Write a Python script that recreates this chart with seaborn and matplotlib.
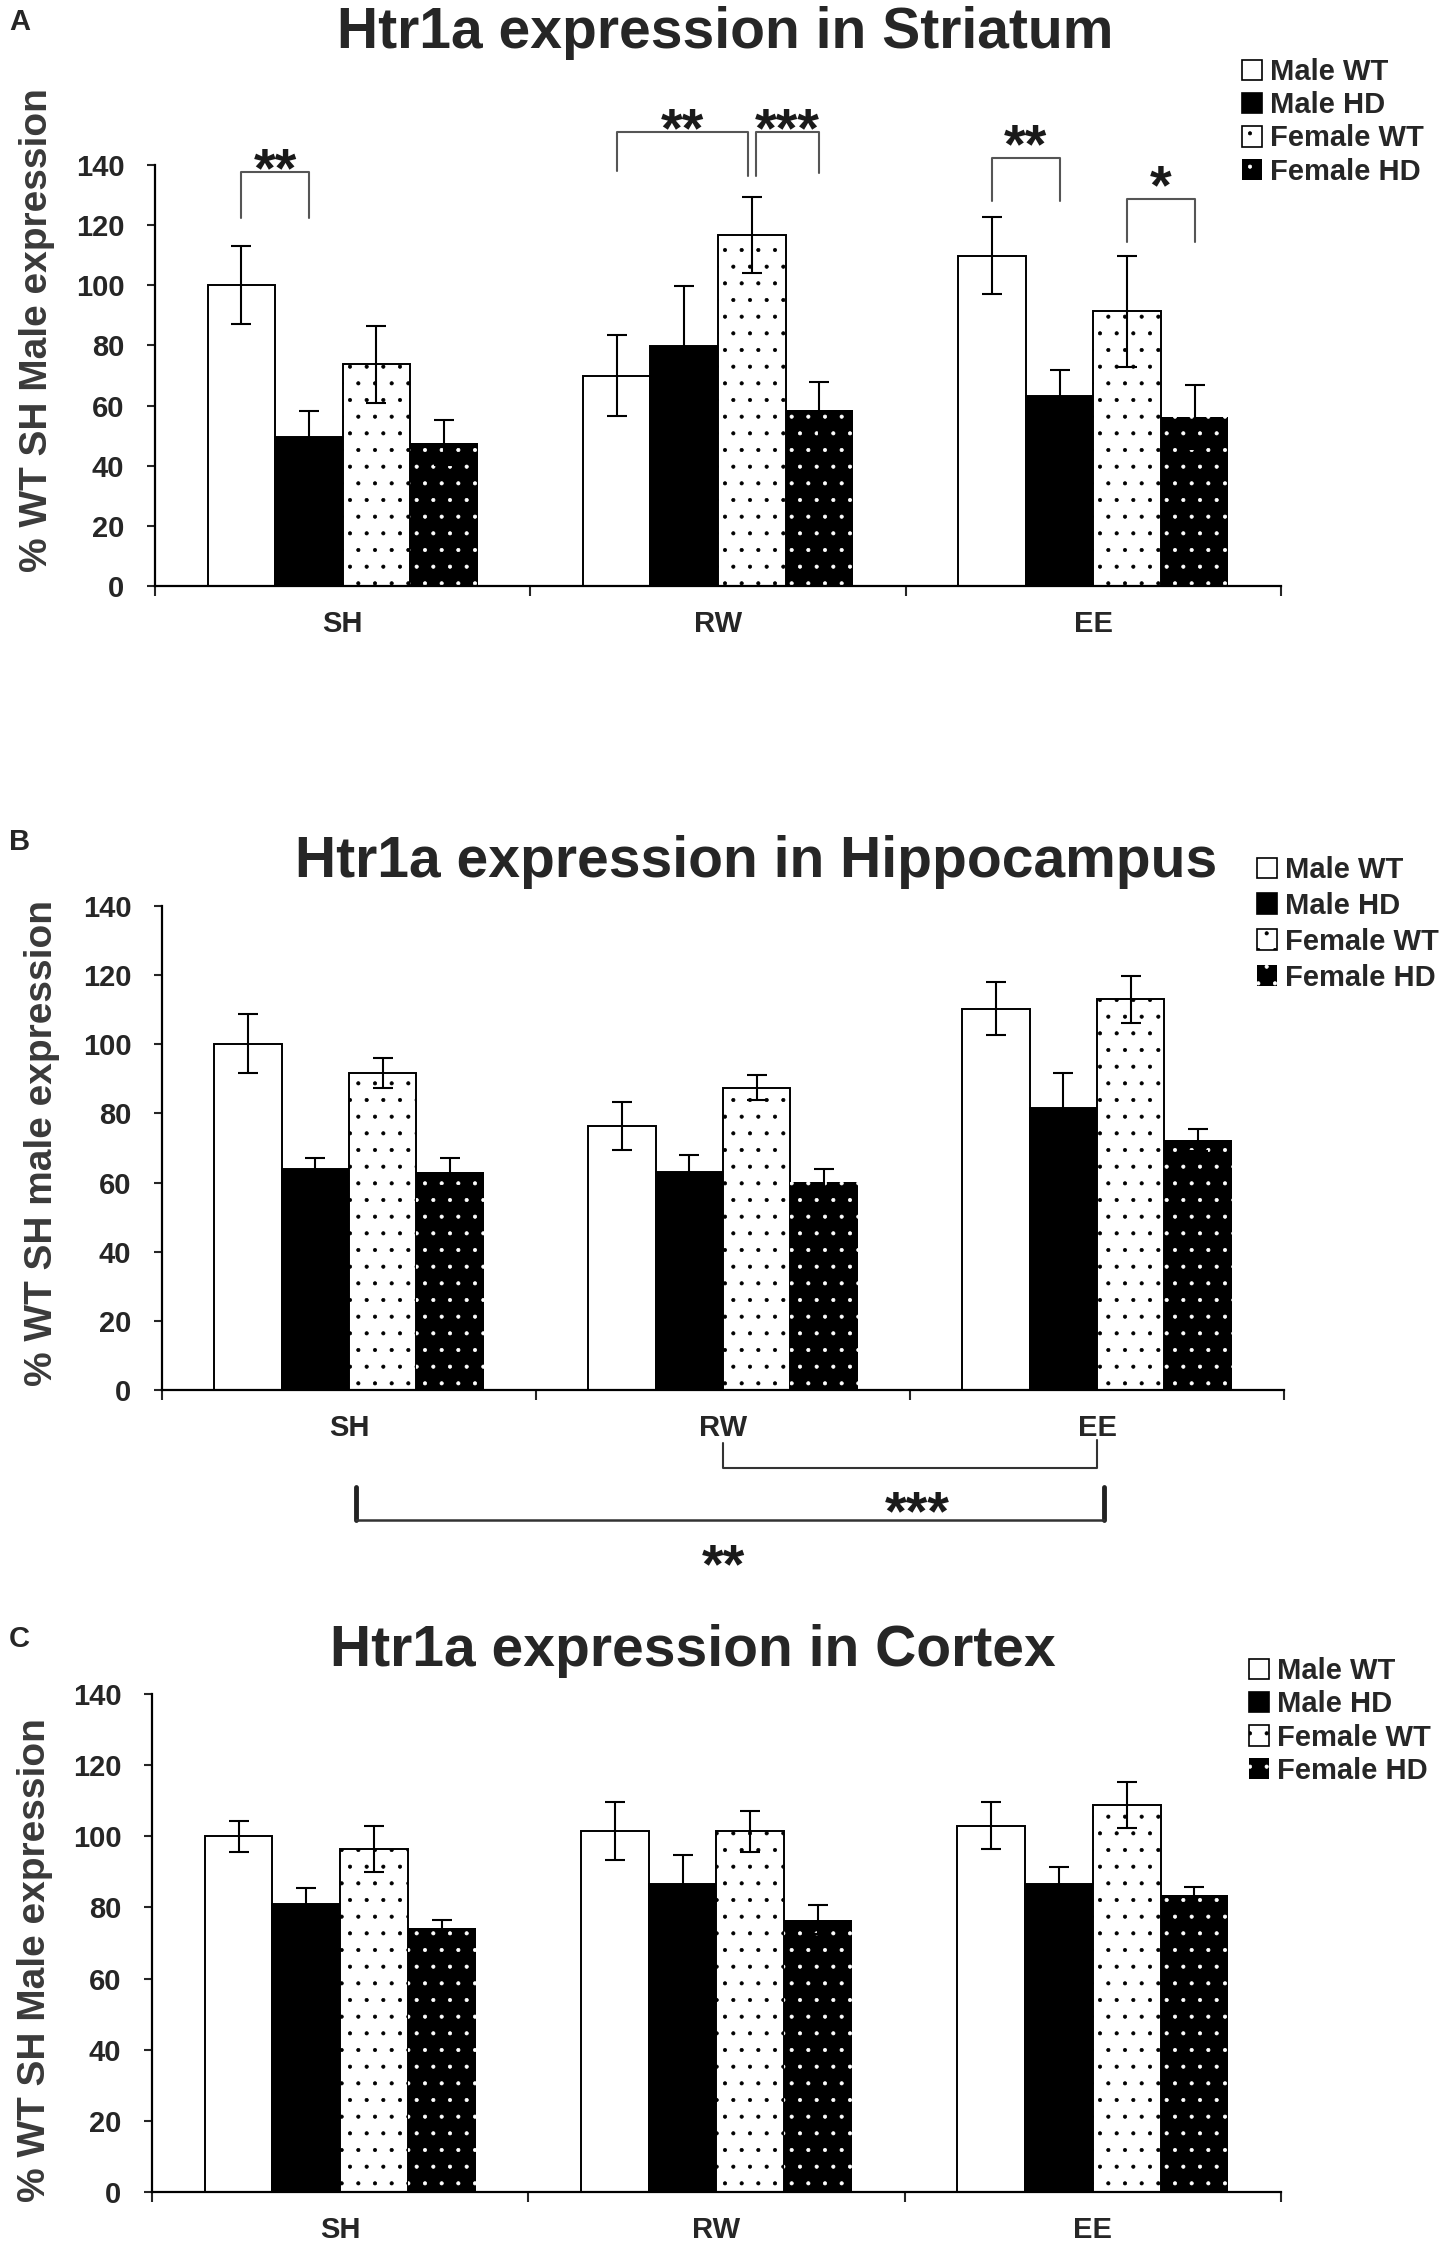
import numpy as np
import pandas as pd
import matplotlib
matplotlib.use('Agg')
import matplotlib.pyplot as plt
import seaborn as sns
from matplotlib.patches import Patch

# data
conditions = ['SH', 'RW', 'EE']
groups = ['Male WT', 'Male HD', 'Female WT', 'Female HD']

# A - striatum (one list per group, SH/RW/EE)
str_mwt = [100.0, 69.9, 109.9]
str_mhd = [49.5, 79.8, 63.2]
str_fwt = [73.8, 116.7, 91.3]
str_fhd = [47.6, 58.4, 56.3]
str_mwt_err = [13.0, 13.5, 12.7]
str_mhd_err = [8.8, 20.0, 8.6]
str_fwt_err = [12.8, 12.5, 18.5]
str_fhd_err = [7.5, 9.5, 10.7]

# B - hippocampus
hip_mwt = [100.2, 76.4, 110.3]
hip_mhd = [63.9, 63.1, 81.6]
hip_fwt = [91.8, 87.5, 113.0]
hip_fhd = [63.1, 60.3, 72.3]
hip_mwt_err = [8.5, 7.0, 7.7]
hip_mhd_err = [3.3, 5.0, 10.0]
hip_fwt_err = [4.3, 3.5, 6.8]
hip_fhd_err = [4.0, 3.5, 3.3]

# C - cortex
ctx_mwt = [100.0, 101.4, 103.0]
ctx_mhd = [80.9, 86.6, 86.6]
ctx_fwt = [96.4, 101.4, 108.7]
ctx_fhd = [74.2, 76.6, 83.4]
ctx_mwt_err = [4.3, 8.2, 6.6]
ctx_mhd_err = [4.6, 8.1, 4.8]
ctx_fwt_err = [6.5, 5.8, 6.5]
ctx_fhd_err = [2.4, 4.0, 2.3]

# significance brackets in A: (condition, group a, group b, label)
sig_pairs_a = [(0, 0, 1, '**'), (1, 0, 2, '**'), (1, 2, 3, '***'),
               (2, 0, 1, '**'), (2, 2, 3, '*')]
# bracket heights (top, left leg end, right leg end, star height)
sig_levels_a = [(137.6, 122.4, 122.4, 143.5), (151, 138, 136.3, 157),
                (151, 136.3, 137.3, 157), (142.3, 128, 128, 151.4),
                (128.7, 114.3, 114.3, 138)]

W, H = 1450, 2244

sns.set_style('ticks')
plt.rcParams['font.family'] = ['Liberation Sans', 'DejaVu Sans']
plt.rcParams['font.weight'] = 'bold'
plt.rcParams['hatch.linewidth'] = 0.5

fig = plt.figure(figsize=(W / 100, H / 100), dpi=100)


def make_ax(left, right, y0, ytop):
    return fig.add_axes([left / W, 1 - y0 / H, (right - left) / W, (y0 - ytop) / H])


def draw_panel(ax, means, errs):
    rows = []
    for g, vals in zip(groups, means):
        for c, v in zip(conditions, vals):
            rows.append({'condition': c, 'group': g, 'value': v})
    df = pd.DataFrame(rows)
    sns.barplot(data=df, x='condition', y='value', hue='group',
                order=conditions, hue_order=groups,
                palette=['white', 'black', 'white', 'black'],
                edgecolor='black', linewidth=1.4, width=0.72,
                errorbar=None, legend=False, ax=ax)
    bar_conts = list(ax.containers)
    centers = []
    for i, cont in enumerate(bar_conts):
        bars = [b for b in cont if b is not None]
        xs = [b.get_x() + b.get_width() / 2 for b in bars]
        ys = [b.get_height() for b in bars]
        centers.append(xs)
        if i == 2:
            for b in bars:
                b.set_hatch('.')
        if i == 3:
            for b in bars:
                b.set_hatch('.')
                b.set_edgecolor('white')
                b.set_linewidth(0)
        ax.errorbar(xs, ys, yerr=errs[i], fmt='none', ecolor='black',
                    elinewidth=1.5, capsize=7.5, capthick=1.5, zorder=5)

    ax.set_ylim(0, 140)
    ax.set_xlim(-0.5, 2.5)
    ax.set_yticks(range(0, 141, 20))
    ax.set_xticks([0, 1, 2])
    ax.set_xticks([-0.5, 0.5, 1.5, 2.5], minor=True)
    ax.tick_params(axis='x', which='major', length=0, pad=17.5, labelsize=21)
    ax.tick_params(axis='x', which='minor', length=7, width=1.5, direction='out')
    ax.tick_params(axis='y', length=6, width=1.5, direction='out', pad=16, labelsize=21)
    for lab in ax.get_xticklabels() + ax.get_yticklabels():
        lab.set_fontweight('bold')
    ax.set_xlabel('')
    ax.set_ylabel('')
    sns.despine(ax=ax)
    for s in ['left', 'bottom']:
        ax.spines[s].set_linewidth(1.6)
        ax.spines[s].set_color('black')
    return centers


def add_legend(x, y, spacing):
    handles = [
        Patch(facecolor='white', edgecolor='black', linewidth=1.2),
        Patch(facecolor='black', edgecolor='black', linewidth=1.2),
        Patch(facecolor='white', edgecolor='black', linewidth=1.2, hatch='.'),
        Patch(facecolor='black', edgecolor='white', linewidth=0, hatch='.'),
    ]
    fig.legend(handles, groups, loc='upper left',
               bbox_to_anchor=(x / W, 1 - y / H), bbox_transform=fig.transFigure,
               frameon=False, prop={'weight': 'bold', 'size': 21},
               handlelength=0.7, handleheight=0.7, handletextpad=0.25,
               labelspacing=spacing, borderpad=0, borderaxespad=0)


def star(ax, x, y, label):
    ax.annotate(label, xy=(x, y), xytext=(0, -23), textcoords='offset points',
                ha='center', va='baseline', fontsize=40, fontweight='bold',
                color='#1a1a1a', annotation_clip=False)


title_kw = dict(fontsize=41, fontweight='bold', ha='center', va='baseline')
ylab_kw = dict(fontsize=28, fontweight='bold', rotation=90, ha='center',
               va='center', color='#3a3a3a')
letter_kw = dict(fontsize=21, fontweight='bold', ha='left', va='baseline')

# ---- A: striatum
ax_a = make_ax(155, 1281, 586, 165)
cen_a = draw_panel(ax_a, [str_mwt, str_mhd, str_fwt, str_fhd],
                   [str_mwt_err, str_mhd_err, str_fwt_err, str_fhd_err])
for (c, ga, gb, lab), (top, lb1, lb2, sy) in zip(sig_pairs_a, sig_levels_a):
    x1, x2 = cen_a[ga][c], cen_a[gb][c]
    if lab == '**' and c == 1:
        x2 -= 0.01
    if lab == '***':
        x1 += 0.01
    ax_a.plot([x1, x1, x2, x2], [lb1, top, top, lb2], color='#555555',
              lw=1.5, clip_on=False)
    star(ax_a, (x1 + x2) / 2, sy, lab)
fig.text(725 / W, 1 - 48 / H, 'Htr1a expression in Striatum', **title_kw)
fig.text(37 / W, 1 - 330 / H, '% WT SH Male expression', **ylab_kw)
fig.text(9 / W, 1 - 30 / H, 'A', **letter_kw)
add_legend(1242, 58, 0.18)

# ---- B: hippocampus
ax_b = make_ax(162, 1284, 1390, 906)
cen_b = draw_panel(ax_b, [hip_mwt, hip_mhd, hip_fwt, hip_fhd],
                   [hip_mwt_err, hip_mhd_err, hip_fwt_err, hip_fhd_err])
# RW vs EE
ax_b.plot([1, 1, 2, 2], [-15.3, -22.5, -22.5, -14.5], color='#333333',
          lw=1.5, clip_on=False)
star(ax_b, 1.52, -31, '***')
# SH vs EE
ax_b.plot([0.02, 0.02], [-28, -37.6], color='#222222', lw=3.5, clip_on=False)
ax_b.plot([2.02, 2.02], [-28, -37.6], color='#222222', lw=3.5, clip_on=False)
ax_b.plot([0.02, 2.02], [-37.6, -37.6], color='#333333', lw=1.8, clip_on=False)
star(ax_b, 1.0, -46.3, '**')
fig.text(756 / W, 1 - 877 / H, 'Htr1a expression in Hippocampus', **title_kw)
fig.text(42 / W, 1 - 1143 / H, '% WT SH male expression', **ylab_kw)
fig.text(9 / W, 1 - 850 / H, 'B', **letter_kw)
add_legend(1257, 856, 0.27)

# ---- C: cortex
ax_c = make_ax(152, 1281, 2192, 1694)
draw_panel(ax_c, [ctx_mwt, ctx_mhd, ctx_fwt, ctx_fhd],
           [ctx_mwt_err, ctx_mhd_err, ctx_fwt_err, ctx_fhd_err])
fig.text(693 / W, 1 - 1666 / H, 'Htr1a expression in Cortex', **title_kw)
fig.text(35 / W, 1 - 1960 / H, '% WT SH Male expression', **ylab_kw)
fig.text(9 / W, 1 - 1647 / H, 'C', **letter_kw)
add_legend(1249, 1657, 0.18)

fig.savefig('out.png', dpi=100, facecolor='white')
